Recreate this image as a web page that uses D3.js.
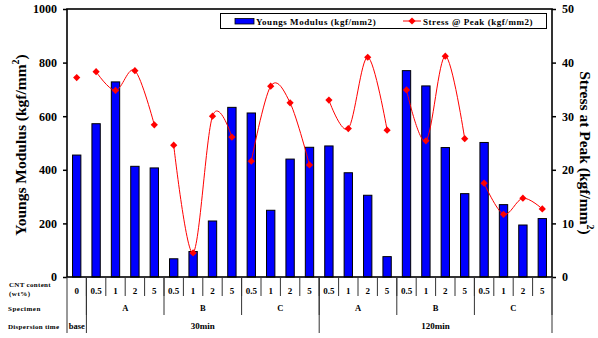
<!DOCTYPE html>
<html><head><meta charset="utf-8">
<script src="https://cdn.jsdelivr.net/npm/d3@7/dist/d3.min.js"></script>
<style>body{margin:0;background:#fff}svg{display:block}text{font-family:"Liberation Serif","Times New Roman",serif;font-weight:bold;fill:#000}</style>
</head><body>
<svg id="c" width="598" height="338"></svg>
<script>
const cntLabels = ["0","0.5","1","2","5","0.5","1","2","5","0.5","1","2","5","0.5","1","2","5","0.5","1","2","5","0.5","1","2","5"];
const modulus = [455,572,728,413,407,68,95,209,633,612,249,440,484,489,389,305,76,770,713,483,311,502,270,194,218];
const stress = [37.2,38.3,34.8,38.5,28.4,24.6,4.5,30.0,26.1,21.6,35.6,32.5,20.9,33.0,27.7,41.0,27.4,34.9,25.4,41.2,25.8,17.5,11.7,14.7,12.7];
const stressGroup = [0,1,1,1,1,2,2,2,2,3,3,3,3,4,4,4,4,5,5,5,5,6,6,6,6];
const specimenLabels = ["","A","B","C","A","B","C"];
const specimenSpans = [1,4,4,4,4,4,4];
const dispLabels = ["base","30min","120min"];
const dispSpans = [1,12,12];
const leftTicks = [0,200,400,600,800,1000];
const rightTicks = [0,10,20,30,40,50];

const svg = d3.select("#c");
const L=67,R=552,T=9,B=277;
const idx = d3.range(cntLabels.length);
const x = d3.scaleBand().domain(idx).range([L,R]).padding(0);
const step = x.step();
const bw = step*0.43;
const yL = d3.scaleLinear().domain([0,1000]).range([B,T]);
const yR = d3.scaleLinear().domain([0,50]).range([B,T]);

// bars
svg.append("g").selectAll("rect").data(modulus).join("rect")
  .attr("x",(d,i)=>x(i)+(step-bw)/2).attr("y",d=>yL(d))
  .attr("width",bw).attr("height",d=>B-yL(d))
  .attr("fill","#0000ff").attr("stroke","#000").attr("stroke-width",1);

// stress lines
const line = d3.line().x(d=>x(d.i)+step/2).y(d=>yR(d.v)).curve(d3.curveCatmullRom.alpha(0));
const pts = stress.map((v,i)=>({i,v,g:stressGroup[i]}));
const groups = d3.groups(pts,d=>d.g);
svg.append("g").selectAll("path").data(groups).join("path")
  .attr("d",d=>line(d[1])).attr("fill","none").attr("stroke","#ff0000").attr("stroke-width",1);
const sym = d3.symbol(d3.symbolSquare,26);
svg.append("g").selectAll("path").data(pts).join("path")
  .attr("d",sym).attr("transform",d=>`translate(${x(d.i)+step/2},${yR(d.v)}) rotate(45)`)
  .attr("fill","#ff0000");

// axes
const axL = d3.axisLeft(yL).tickValues(leftTicks).tickFormat(d3.format("d")).tickSize(4).tickPadding(6);
const gL = svg.append("g").attr("transform",`translate(${L},0)`).call(axL);
const axR = d3.axisRight(yR).tickValues(rightTicks).tickFormat(d3.format("d")).tickSize(4).tickPadding(6);
const gR = svg.append("g").attr("transform",`translate(${R},0)`).call(axR);
[gL,gR].forEach(g=>{
  g.select(".domain").remove();
  g.selectAll("line").attr("stroke","#000").attr("stroke-width",1.5);
  g.selectAll("text").attr("font-size",12).attr("font-family","Liberation Serif").attr("font-weight","bold").attr("fill","#000");
});
// frame
svg.append("rect").attr("x",L).attr("y",T).attr("width",R-L).attr("height",B-T)
  .attr("fill","none").attr("stroke","#000").attr("stroke-width",1.6);

// axis titles
const tl = svg.append("text").attr("transform",`translate(26,${(T+B)/2+2}) rotate(-90)`)
  .attr("text-anchor","middle").attr("font-size",15.5);
tl.append("tspan").text("Youngs Modulus (kgf/mm");
tl.append("tspan").text("2").attr("font-size",10).attr("dy",-7);
tl.append("tspan").text(")").attr("dy",7);
const tr = svg.append("text").attr("transform",`translate(580,${(T+B)/2+10}) rotate(90)`)
  .attr("text-anchor","middle").attr("font-size",15.5);
tr.append("tspan").text("Stress at Peak (kgf/mm");
tr.append("tspan").text("2").attr("font-size",10).attr("dy",-7);
tr.append("tspan").text(")").attr("dy",7);

// legend
const lg = svg.append("g");
lg.append("rect").attr("x",220.5).attr("y",13.5).attr("width",326).attr("height",15)
  .attr("fill","#fff").attr("stroke","#000").attr("stroke-width",1);
lg.append("rect").attr("x",235).attr("y",18.5).attr("width",19).attr("height",5.5)
  .attr("fill","#0000ff").attr("stroke","#000").attr("stroke-width",0.8);
lg.append("text").attr("x",256).attr("y",24.5).attr("font-size",9).attr("letter-spacing",0.55)
  .text("Youngs Modulus (kgf/mm2)");
lg.append("line").attr("x1",403).attr("x2",421).attr("y1",21).attr("y2",21).attr("stroke","#ff0000").attr("stroke-width",1);
lg.append("path").attr("d",sym).attr("transform","translate(412,21) rotate(45)").attr("fill","#ff0000");
lg.append("text").attr("x",423).attr("y",24.5).attr("font-size",9).attr("letter-spacing",0.55)
  .text("Stress @ Peak (kgf/mm2)");

// table below
const tb = svg.append("g");
const lineColor="#333";
idx.slice(1).forEach(i=>{
  tb.append("line").attr("x1",x(i)).attr("x2",x(i)).attr("y1",B).attr("y2",296).attr("stroke",lineColor);
});
tb.selectAll("text.cnt").data(cntLabels).join("text").attr("class","cnt")
  .attr("x",(d,i)=>x(i)+step/2).attr("y",293.5).attr("text-anchor","middle").attr("font-size",9).text(d=>d);
let acc=0;
specimenSpans.forEach((s,k)=>{
  const x0=x(acc), x1=acc+s<idx.length? x(acc+s): R;
  tb.append("line").attr("x1",x1).attr("x2",x1).attr("y1",B).attr("y2",315).attr("stroke",lineColor);
  if(specimenLabels[k]) tb.append("text").attr("x",(x0+x1)/2).attr("y",311).attr("text-anchor","middle").attr("font-size",8.5).text(specimenLabels[k]);
  acc+=s;
});
acc=0;
dispSpans.forEach((s,k)=>{
  const x0=x(acc), x1=acc+s<idx.length? x(acc+s): R;
  tb.append("line").attr("x1",x1).attr("x2",x1).attr("y1",B).attr("y2",333).attr("stroke",lineColor);
  tb.append("text").attr("x",(x0+x1)/2).attr("y",328.5).attr("text-anchor","middle").attr("font-size",k===0?8.5:9).text(dispLabels[k]);
  acc+=s;
});
tb.append("line").attr("x1",L).attr("x2",L).attr("y1",B).attr("y2",333).attr("stroke",lineColor);
// row headers
tb.append("text").attr("x",9).attr("y",287).attr("font-size",7).attr("letter-spacing",0.3).text("CNT content");
tb.append("text").attr("x",9).attr("y",295.5).attr("font-size",7).attr("letter-spacing",0.5).text("(wt%)");
tb.append("text").attr("x",8).attr("y",311).attr("font-size",7).attr("letter-spacing",0.5).text("Specimen");
tb.append("text").attr("x",8).attr("y",329).attr("font-size",7).attr("letter-spacing",0.3).text("Dispersion time");
</script>
</body></html>
